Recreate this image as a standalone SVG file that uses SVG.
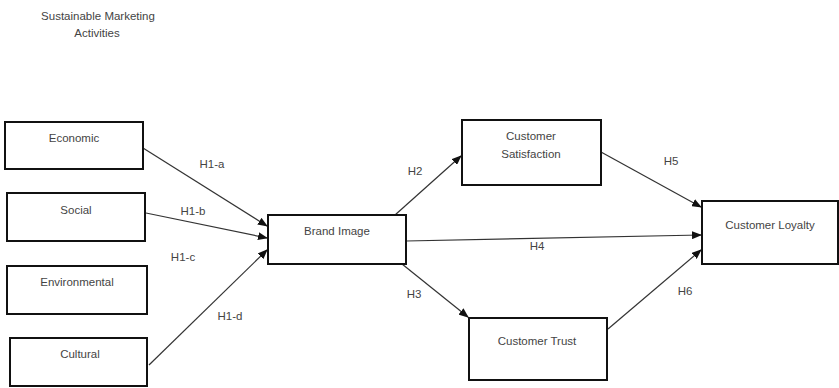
<svg xmlns="http://www.w3.org/2000/svg" width="839" height="388" viewBox="0 0 839 388">
<style>
.box{fill:#fff;stroke:#111;stroke-width:2}
.t{font-family:"Liberation Sans",Arial,sans-serif;font-size:11.5px;fill:#444;text-anchor:middle;dominant-baseline:middle}
.c{stroke:#333;stroke-width:1.2;fill:none;marker-end:url(#ah)}
</style>
<defs>
<marker id="ah" markerWidth="10" markerHeight="8" refX="9" refY="4" orient="auto" markerUnits="userSpaceOnUse">
<path d="M0,0 L10,4 L0,8 Z" fill="#111"/>
</marker>
</defs>
<rect width="839" height="388" fill="#fff"/>
<g id="title">
<text class="t" x="98" y="17">Sustainable Marketing</text>
<text class="t" x="97" y="34">Activities</text>
</g>
<g id="connectors">
<line class="c" x1="143" y1="148" x2="267" y2="226"/>
<line class="c" x1="146" y1="213" x2="267" y2="238"/>
<line class="c" x1="149" y1="365" x2="267" y2="250"/>
<line class="c" x1="395" y1="215" x2="461" y2="156"/>
<line class="c" x1="406" y1="241" x2="701" y2="235"/>
<line class="c" x1="402" y1="264" x2="468" y2="317"/>
<line class="c" x1="601" y1="152" x2="701" y2="207"/>
<line class="c" x1="608" y1="329" x2="701" y2="250"/>
<text class="t" x="212" y="165">H1-a</text>
<text class="t" x="193" y="212">H1-b</text>
<text class="t" x="183" y="258">H1-c</text>
<text class="t" x="230" y="317">H1-d</text>
<text class="t" x="415" y="172">H2</text>
<text class="t" x="414" y="295">H3</text>
<text class="t" x="537" y="247">H4</text>
<text class="t" x="671" y="162">H5</text>
<text class="t" x="685" y="292">H6</text>
</g>
<g id="economic"><rect class="box" x="5" y="122" width="138" height="47"/><text class="t" x="74" y="139">Economic</text></g>
<g id="social"><rect class="box" x="7" y="193" width="138" height="48"/><text class="t" x="76" y="211">Social</text></g>
<g id="environmental"><rect class="box" x="7" y="266" width="140" height="48"/><text class="t" x="77" y="283">Environmental</text></g>
<g id="cultural"><rect class="box" x="10" y="338" width="137" height="48"/><text class="t" x="80" y="355">Cultural</text></g>
<g id="brand-image"><rect class="box" x="268" y="215" width="138" height="49"/><text class="t" x="337" y="232">Brand Image</text></g>
<g id="customer-satisfaction"><rect class="box" x="462" y="120" width="139" height="65"/><text class="t" x="531" y="137">Customer</text><text class="t" x="531" y="155">Satisfaction</text></g>
<g id="customer-trust"><rect class="box" x="469" y="318" width="138" height="62"/><text class="t" x="537" y="342">Customer Trust</text></g>
<g id="customer-loyalty"><rect class="box" x="702" y="201" width="136" height="63"/><text class="t" x="770" y="226">Customer Loyalty</text></g>
</svg>
